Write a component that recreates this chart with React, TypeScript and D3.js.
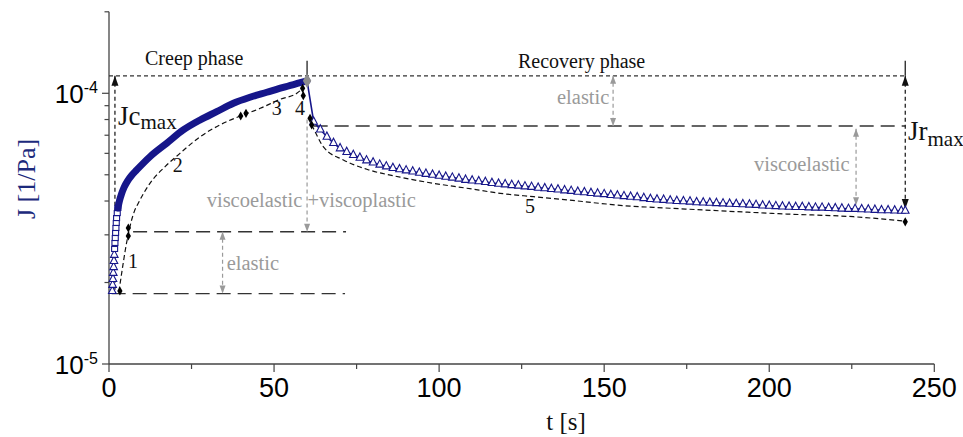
import React from 'react';
import * as d3 from 'd3';

const WIDTH = 963;
const HEIGHT = 437;

const NAVY = '#16168a';
const GREY = '#9a9a9a';
const AXIS = '#444';
const SERIF = "'Liberation Serif', Tinos, 'Times New Roman', serif";
const SANS = "'Liberation Sans', Arial, sans-serif";

// axis ticks
const xMajorTicks = [0, 50, 100, 150, 200, 250];
const xMinorTicks = [25, 75, 125, 175, 225];
const yMajorTicks = [1e-5, 1e-4];
const yMajorExp = ['-5', '-4'];
const yMinorTicks = [2e-5, 3e-5, 4e-5, 5e-5, 6e-5, 7e-5, 8e-5, 9e-5, 2e-4];

// measured compliance J [1/Pa] vs t [s], creep phase: first seconds (separate markers)
const creepStart: [number, number][] = [
  [1.0, 1.86e-5], [1.1, 1.96e-5], [1.2, 2.06e-5], [1.3, 2.17e-5], [1.4, 2.28e-5],
  [1.5, 2.40e-5], [1.6, 2.53e-5], [1.7, 2.66e-5], [1.8, 2.80e-5], [1.9, 2.92e-5],
  [2.0, 3.05e-5], [2.1, 3.18e-5], [2.2, 3.32e-5], [2.3, 3.46e-5], [2.5, 3.61e-5],
  [2.7, 3.77e-5],
];

// creep phase, dense part (markers merge into a band)
const creepBand: [number, number][] = [
  [2.7, 3.77e-5], [3.2, 4.02e-5], [3.8, 4.25e-5], [4.6, 4.50e-5], [5.6, 4.74e-5],
  [6.9, 4.98e-5], [8.4, 5.21e-5], [12.4, 5.83e-5], [17.5, 6.54e-5], [22.5, 7.32e-5],
  [27.6, 7.97e-5], [32.6, 8.55e-5], [37.7, 9.19e-5], [42.7, 9.67e-5], [47.8, 10.09e-5],
  [52.8, 10.52e-5], [57.9, 10.94e-5], [60.0, 11.12e-5],
];

// recovery phase
const recovery: [number, number][] = [
  [62, 7.85e-5], [64, 7.35e-5], [66, 6.91e-5], [68, 6.55e-5], [70, 6.26e-5],
  [72, 6.07e-5], [74, 5.92e-5], [76, 5.78e-5], [78, 5.65e-5], [80, 5.55e-5],
  [82, 5.45e-5], [84, 5.37e-5], [86, 5.30e-5], [88, 5.24e-5], [90, 5.19e-5],
  [92, 5.14e-5], [94, 5.09e-5], [96, 5.04e-5], [98, 5.00e-5], [100, 4.96e-5],
  [102, 4.92e-5], [104, 4.88e-5], [106, 4.84e-5], [108, 4.79e-5], [110, 4.76e-5],
  [112, 4.73e-5], [114, 4.70e-5], [116, 4.66e-5], [118, 4.63e-5], [120, 4.61e-5],
  [122, 4.58e-5], [124, 4.56e-5], [126, 4.53e-5], [128, 4.51e-5], [130, 4.48e-5],
  [132, 4.46e-5], [134, 4.43e-5], [136, 4.41e-5], [138, 4.38e-5], [140, 4.36e-5],
  [142, 4.33e-5], [144, 4.31e-5], [146, 4.28e-5], [148, 4.26e-5], [150, 4.24e-5],
  [152, 4.21e-5], [154, 4.19e-5], [156, 4.17e-5], [158, 4.15e-5], [160, 4.13e-5],
  [162, 4.10e-5], [164, 4.07e-5], [166, 4.05e-5], [168, 4.04e-5], [170, 4.02e-5],
  [172, 4.00e-5], [174, 3.99e-5], [176, 3.98e-5], [178, 3.96e-5], [180, 3.95e-5],
  [182, 3.94e-5], [184, 3.93e-5], [186, 3.92e-5], [188, 3.91e-5], [190, 3.90e-5],
  [192, 3.89e-5], [194, 3.88e-5], [196, 3.87e-5], [198, 3.85e-5], [200, 3.84e-5],
  [202, 3.83e-5], [204, 3.82e-5], [206, 3.81e-5], [208, 3.80e-5], [210, 3.80e-5],
  [212, 3.79e-5], [214, 3.78e-5], [216, 3.78e-5], [218, 3.77e-5], [220, 3.76e-5],
  [222, 3.75e-5], [224, 3.74e-5], [226, 3.74e-5], [228, 3.73e-5], [230, 3.72e-5],
  [232, 3.71e-5], [234, 3.70e-5], [236, 3.70e-5], [238, 3.69e-5], [240, 3.68e-5],
  [241.2, 3.68e-5],
];

// model fit (dashed)
const modelCreep: [number, number][] = [
  [3.0, 1.85e-5], [4.0, 2.23e-5], [4.9, 2.62e-5], [5.85, 3.02e-5], [6.7, 3.35e-5],
  [7.6, 3.64e-5], [8.9, 3.93e-5], [12.4, 4.65e-5], [17.0, 5.36e-5], [21.5, 6.00e-5],
  [27.6, 6.91e-5], [33.6, 7.64e-5], [39.7, 8.24e-5], [45.8, 8.80e-5], [51.8, 9.50e-5],
  [56.9, 10.0e-5], [58.6, 10.4e-5],
];
const modelRecovery: [number, number][] = [
  [61.4, 7.64e-5], [61.9, 7.43e-5], [64.9, 6.35e-5], [71.0, 5.67e-5], [78.1, 5.24e-5],
  [88.2, 4.90e-5], [98.3, 4.65e-5], [108.4, 4.46e-5], [118.5, 4.27e-5], [128.6, 4.15e-5],
  [138.7, 4.04e-5], [148.8, 3.92e-5], [157.9, 3.83e-5], [164.9, 3.79e-5], [185.2, 3.68e-5],
  [205.4, 3.58e-5], [225.5, 3.50e-5], [241.2, 3.37e-5],
];
// segment boundaries of the model
const modelNodes: [number, number][] = [
  [3.3, 1.86e-5], [5.85, 2.97e-5], [5.85, 3.18e-5], [39.9, 8.24e-5], [41.5, 8.43e-5],
  [58.65, 10.43e-5], [58.85, 9.80e-5], [60.9, 8.08e-5], [61.4, 7.64e-5], [241.2, 3.35e-5],
];
const segmentLabels = ['1', '2', '3', '4', '5'];
const segmentPos: [number, number][] = [[128, 268], [172.7, 171.7], [271.7, 115], [295, 115], [525, 213.3]];

// annotation levels
const tCreepEnd = 60;
const tEnd = 241.2;
const jTop = 1.32e-4;
const jcMax = 1.16e-4;
const jElastic0 = 1.82e-5;
const jElastic1 = 3.08e-5;
const jrElastic = 7.57e-5;
const jrEnd = 3.74e-5;
const jVisco = 3.86e-5;

const x = d3.scaleLinear().domain([0, 250]).range([109, 934.3]);
const y = d3.scaleLog().domain([1e-5, 2e-4]).range([364, 11.8]);

const line = d3.line<[number, number]>().x(d => x(d[0])).y(d => y(d[1])).curve(d3.curveMonotoneX);
const straight = d3.line<[number, number]>().x(d => x(d[0])).y(d => y(d[1]));
const diamond = d3.symbol(d3.symbolDiamond, 24)();

const head = (px: number, py: number, up: boolean, len: number, half: number) => {
  const by = up ? py + len : py - len;
  return `M${px},${py}L${px - half},${by}L${px + half},${by}Z`;
};

const VArrow = ({ t, j0, j1, color, dash, top, bottom, len, half }: any) => {
  const px = x(t);
  const y0 = y(j0);
  const y1 = y(j1);
  return (
    <g>
      <line x1={px} x2={px} y1={y0} y2={y1} stroke={color} strokeWidth={1.2} strokeDasharray={dash} />
      {top && <path d={head(px, y0, true, len, half)} fill={color} />}
      {bottom && <path d={head(px, y1, false, len, half)} fill={color} />}
    </g>
  );
};

const HDash = ({ j, t0, t1, dash, color }: any) => (
  <line x1={x(t0)} x2={x(t1)} y1={y(j)} y2={y(j)} stroke={color} strokeWidth={1.3} strokeDasharray={dash} />
);

const triangle = (cx: number, cy: number) =>
  `M${cx - 3.8},${cy + 2.5}L${cx + 3.8},${cy + 2.5}L${cx},${cy - 4.8}Z`;

const serif = (size: number, fill = '#111') => ({ fontFamily: SERIF, fontSize: size, fill });

export default function App() {
  return (
    <svg width={WIDTH} height={HEIGHT} style={{ position: 'absolute', left: 0, top: 0, background: '#fff' }}>
      {/* axes */}
      <line x1={x(0)} x2={x(250)} y1={y(1e-5)} y2={y(1e-5)} stroke={AXIS} strokeWidth={1.3} />
      <line x1={x(0)} x2={x(0)} y1={y(1e-5)} y2={y(2e-4)} stroke={AXIS} strokeWidth={1.3} />
      {xMajorTicks.map(t => (
        <g key={t}>
          <line x1={x(t)} x2={x(t)} y1={y(1e-5)} y2={y(1e-5) + 8} stroke={AXIS} strokeWidth={1.2} />
          <text x={x(t)} y={396.7} textAnchor="middle" style={{ fontFamily: SANS, fontSize: 27 }}>{t}</text>
        </g>
      ))}
      {xMinorTicks.map(t => (
        <line key={t} x1={x(t)} x2={x(t)} y1={y(1e-5)} y2={y(1e-5) + 5} stroke={AXIS} strokeWidth={1.2} />
      ))}
      {yMajorTicks.map((v, i) => (
        <g key={v}>
          <line x1={x(0) - 7} x2={x(0)} y1={y(v)} y2={y(v)} stroke={AXIS} strokeWidth={1.2} />
          <text x={98} y={y(v) + 9.5} textAnchor="end" style={{ fontFamily: SANS, fontSize: 26 }}>
            10<tspan style={{ fontSize: 16 }} dy={-10}>{yMajorExp[i]}</tspan>
          </text>
        </g>
      ))}
      {yMinorTicks.map(v => (
        <line key={v} x1={x(0) - 4.5} x2={x(0)} y1={y(v)} y2={y(v)} stroke={AXIS} strokeWidth={1.2} />
      ))}
      <text transform="translate(35,179) rotate(-90)" textAnchor="middle" style={serif(26, '#1c2a7c')}>
        J [1/Pa]
      </text>
      <text x={566} y={430} textAnchor="middle" style={serif(25)}>t [s]</text>

      {/* reference levels */}
      <HDash j={jcMax} t0={0} t1={tEnd} dash="4,3" color="#333" />
      <HDash j={jrElastic} t0={62} t1={tEnd} dash="14,7" color="#333" />
      <HDash j={jElastic1} t0={7.3} t1={71.8} dash="14,7" color="#333" />
      <HDash j={jElastic0} t0={0.8} t1={71.5} dash="14,7" color="#333" />
      <line x1={x(tCreepEnd)} x2={x(tCreepEnd)} y1={y(jTop)} y2={y(11.2e-5)} stroke="#222" strokeWidth={1.3} />
      <line x1={x(tEnd)} x2={x(tEnd)} y1={y(jTop)} y2={y(jcMax)} stroke="#222" strokeWidth={1.3} />

      {/* black arrows: Jc max, Jr max */}
      <VArrow t={1.8} j0={jcMax} j1={jElastic0} color="#111" dash="4,3" top len={10} half={3.5} />
      <VArrow t={tEnd} j0={jcMax} j1={jrEnd} color="#111" dash="4,3" top bottom len={10} half={3.5} />

      {/* grey arrows */}
      <VArrow t={152.7} j0={jcMax} j1={jrElastic} color={GREY} dash="4,3" top bottom len={8} half={3} />
      <VArrow t={226.3} j0={7.4e-5} j1={jVisco} color={GREY} dash="4,3" top bottom len={8} half={3} />
      <VArrow t={34.4} j0={jElastic1} j1={jElastic0} color={GREY} dash="4,3" top bottom len={8} half={3} />
      <VArrow t={tCreepEnd} j0={8.0e-5} j1={jElastic1} color={GREY} dash="4,3" bottom len={8} half={3} />

      {/* model (dashed) */}
      <path d={line(modelCreep) || ''} fill="none" stroke="#111" strokeWidth={1.2} strokeDasharray="5,3" />
      <path d={line(modelRecovery) || ''} fill="none" stroke="#111" strokeWidth={1.2} strokeDasharray="5,3" />

      {/* measured data */}
      <path d={straight(creepStart) || ''} fill="none" stroke={NAVY} strokeWidth={1.2} />
      {creepStart.map((d, i) =>
        i < 7 ? (
          <path key={i} d={triangle(x(d[0]), y(d[1]))} fill="#fff" stroke={NAVY} strokeWidth={1.1} />
        ) : (
          <rect key={i} x={x(d[0]) - 3} y={y(d[1]) - 2.5} width={6} height={5} fill="#fff" stroke={NAVY} strokeWidth={1.1} />
        )
      )}
      <path d={line(creepBand) || ''} fill="none" stroke={NAVY} strokeWidth={7} strokeLinecap="round" strokeLinejoin="round" />
      <path d={straight([creepBand[creepBand.length - 1], ...recovery]) || ''} fill="none" stroke={NAVY} strokeWidth={1.6} />
      {recovery.map((d, i) => (
        <path key={i} d={triangle(x(d[0]), y(d[1]))} fill="#fff" stroke={NAVY} strokeWidth={1.1} />
      ))}
      <path
        d={diamond}
        transform={`translate(${x(creepBand[creepBand.length - 1][0])},${y(creepBand[creepBand.length - 1][1])}) scale(1.6)`}
        fill="#8c8c8c"
      />
      {modelNodes.map((d, i) => (
        <path key={i} d={diamond} transform={`translate(${x(d[0])},${y(d[1])})`} fill="#000" />
      ))}

      {/* labels */}
      {segmentLabels.map((s, i) => (
        <text key={s} x={segmentPos[i][0]} y={segmentPos[i][1]} style={serif(20)}>{s}</text>
      ))}
      <text x={145} y={65} style={serif(20)}>Creep phase</text>
      <text x={518} y={68} style={serif(20)}>Recovery phase</text>
      <text x={118} y={125} style={serif(27)}>
        Jc<tspan style={{ fontSize: 21 }} dy={4}>max</tspan>
      </text>
      <text x={908} y={140} style={serif(27)}>
        Jr<tspan style={{ fontSize: 21 }} dy={6}>max</tspan>
      </text>
      <text x={557} y={104} style={serif(20.5, GREY)}>elastic</text>
      <text x={754} y={171} style={serif(20.5, GREY)}>viscoelastic</text>
      <text x={206.7} y={206.7} style={serif(20.5, GREY)}>viscoelastic +viscoplastic</text>
      <text x={226.7} y={270} style={serif(20.5, GREY)}>elastic</text>
    </svg>
  );
}
